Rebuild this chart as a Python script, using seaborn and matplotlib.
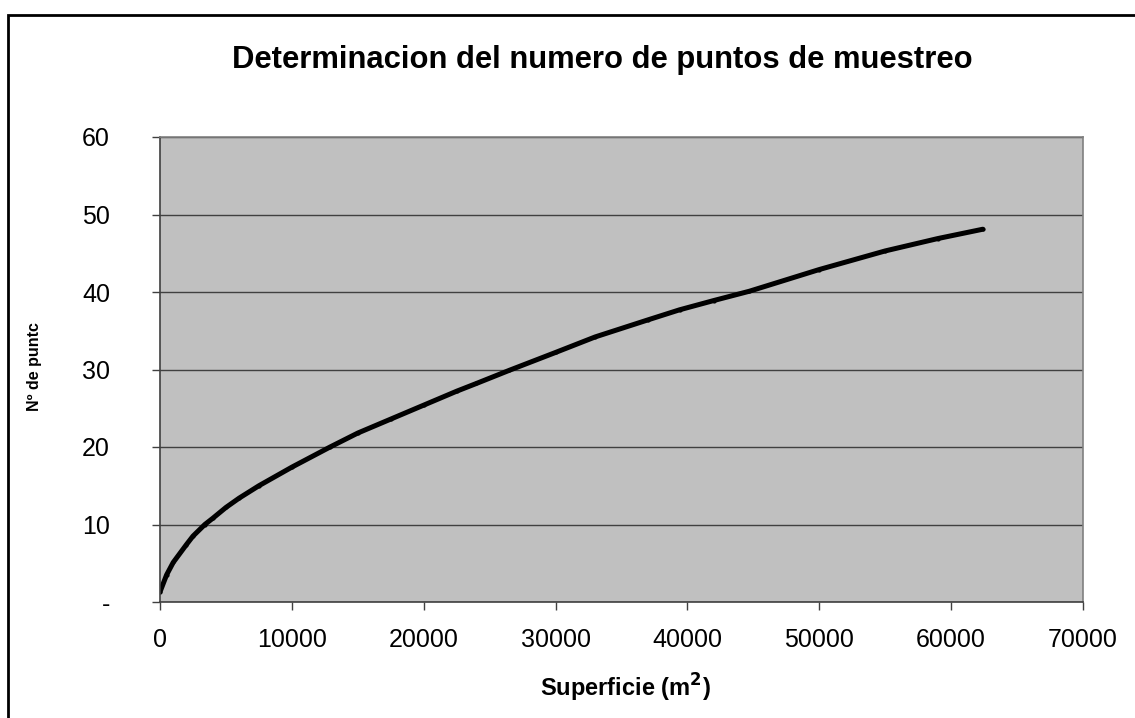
import numpy as np
import pandas as pd
import matplotlib
matplotlib.use('Agg')
import matplotlib.pyplot as plt
import seaborn as sns
from matplotlib.patches import Rectangle

# superficie (m2) vs numero de puntos
superficie = [0, 500, 1000, 2000, 2500, 3400, 4000, 5000, 6000, 7500, 10000,
              12900, 15000, 17500, 20000, 22500, 24000, 26500, 30000, 33000,
              37000, 39400, 42000, 44700, 50000, 55000, 59000, 62400]
puntos = [1.3, 3.5, 5.1, 7.4, 8.5, 10.0, 10.8, 12.2, 13.4, 15.0, 17.4,
          20.0, 21.8, 23.6, 25.4, 27.2, 28.2, 29.9, 32.2, 34.2,
          36.4, 37.7, 38.9, 40.1, 42.9, 45.3, 46.9, 48.1]
yticks = [0, 10, 20, 30, 40, 50, 60]
ytick_labels = ['-', '10', '20', '30', '40', '50', '60']
xticks = [0, 10000, 20000, 30000, 40000, 50000, 60000, 70000]

df = pd.DataFrame({'Superficie': superficie, 'Puntos': puntos})

sns.set_style('white', {'axes.facecolor': '#c0c0c0'})
plt.rcParams['font.family'] = ['Liberation Sans', 'DejaVu Sans']
plt.rcParams['text.color'] = 'black'
plt.rcParams['xtick.color'] = 'black'
plt.rcParams['ytick.color'] = 'black'

fig = plt.figure(figsize=(11.35, 7.18), dpi=100)
ax = fig.add_axes([160/1135, 116/718, 923/1135, 465/718])

sns.lineplot(data=df, x='Superficie', y='Puntos', ax=ax, color='black', lw=3.6,
             marker='o', markersize=3, markeredgewidth=0)

ax.set_xlim(0, 70000)
ax.set_ylim(0, 60)
ax.set_xticks(xticks)
ax.set_xticklabels([str(v) for v in xticks], fontsize=18)
ax.set_yticks(yticks)
ax.set_yticklabels(ytick_labels, fontsize=18)
ax.tick_params(axis='both', direction='out', length=6, width=1, color='#404040',
               left=True, bottom=True)
ax.tick_params(axis='y', pad=30)
ax.tick_params(axis='x', pad=13)
ax.yaxis.grid(True, color='#404040', lw=1)
ax.set_axisbelow(True)
for s in ['left', 'bottom']:
    ax.spines[s].set_color('#404040')
    ax.spines[s].set_linewidth(1.2)
for s in ['top', 'right']:
    ax.spines[s].set_color('#808080')
    ax.spines[s].set_linewidth(1.2)

ax.set_xlabel('')
ax.set_ylabel('')
fig.text(602/1135, 1 - 60/718, 'Determinacion del numero de puntos de muestreo',
         ha='center', va='center', fontsize=22.3, fontweight='bold')
fig.text(625/1135, 1 - 688/718, 'Superficie (m$^\\mathbf{2}$)', ha='center', va='center',
         fontsize=17, fontweight='bold')
fig.text(35/1135, 1 - 367/718, 'Nº de puntc', ha='center', va='center',
         fontsize=11.5, fontweight='bold', rotation=90)

# marco del grafico
fig.patches.append(Rectangle((8/1135, -0.1), 1.2, 1 - 15/718 + 0.1, transform=fig.transFigure,
                             fill=False, edgecolor='black', lw=2))

fig.savefig('out.png', dpi=100)
